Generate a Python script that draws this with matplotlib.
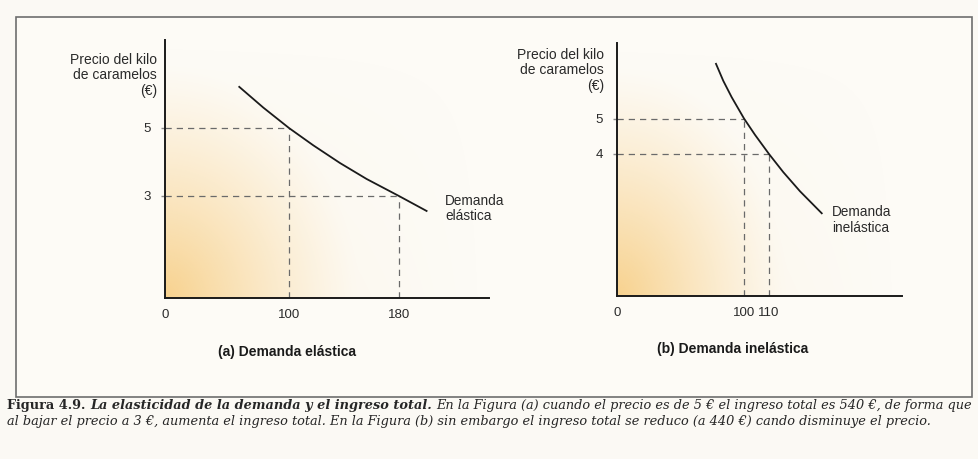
import numpy as np
import matplotlib.pyplot as plt
from matplotlib.patches import Rectangle

# -------- data --------
# (a) elastic demand
qty_ticks_a = [0, 100, 180]
price_ticks_a = [3, 5]
curve_a_q = [59.9, 79.3, 100, 117.7, 137.1, 156.5, 180, 200.1]
curve_a_p = [6.21, 5.60, 5.0, 4.49, 3.97, 3.50, 3.0, 2.56]
points_a = [(100, 5), (180, 3)]

# (b) inelastic demand
qty_ticks_b = [0, 100, 110]
price_ticks_b = [4, 5]
curve_b_q = [77.95, 83.7, 90.3, 100, 104.4, 110, 115.7, 122.4, 131.1]
curve_b_p = [6.54, 6.06, 5.60, 5.0, 4.54, 4.0, 3.49, 2.95, 2.33]
points_b = [(100, 5), (110, 4)]

ylabel = "Precio del kilo\nde caramelos\n(€)"

W, H = 979, 459
plt.rcParams['font.family'] = ['Liberation Sans', 'DejaVu Sans']

fig = plt.figure(figsize=(W / 100, H / 100), dpi=100)
fig.patch.set_facecolor('#fbf9f4')

# background axes for border and caption
bg = fig.add_axes([0, 0, 1, 1])
bg.set_xlim(0, W)
bg.set_ylim(H, 0)
bg.axis('off')
bg.set_zorder(0)
bg.add_patch(Rectangle((16, 17), 956, 380, fill=True, facecolor='#fdfbf6',
                       edgecolor='#6e6e6e', lw=1.2))


def px_box(x0, y_top, x1, y_bot):
    return [x0 / W, 1 - y_bot / H, (x1 - x0) / W, (y_bot - y_top) / H]


def piecewise_scale(qs, ps):
    # the book's quantity axis is not drawn to a uniform scale
    qs = np.asarray(qs, float)
    ps = np.asarray(ps, float)
    return (lambda q: np.interp(q, qs, ps), lambda p: np.interp(p, ps, qs))


def gradient(ax):
    ny, nx = 200, 200
    u = np.linspace(0, 1, nx)[None, :]
    v = np.linspace(0, 1, ny)[:, None]
    a = np.clip(1 - np.sqrt((u / 0.6) ** 2 + (v / 0.9) ** 2), 0, 1) ** 1.2
    img = np.zeros((ny, nx, 4))
    img[..., 0] = 0.97
    img[..., 1] = 0.80
    img[..., 2] = 0.50
    img[..., 3] = 0.75 * a + 0.12 * (1 - u) * (1 - v)
    ax.imshow(img, extent=(0, 1, 0, 1), origin='lower', transform=ax.transAxes,
              aspect='auto', zorder=0, interpolation='bilinear')


def panel(box, scale_q, scale_px, xmax, ymax, curve_q, curve_p, points,
          qticks, pticks, label_xy, label, sub_x, sub_text, ylab_x, ylab_y):
    ax = fig.add_axes(box)
    ax.set_zorder(1)
    ax.patch.set_alpha(0)
    ax.set_xscale('function', functions=piecewise_scale(scale_q, scale_px))
    ax.set_xlim(0, xmax)
    ax.set_ylim(0, ymax)
    gradient(ax)
    for s in ['top', 'right']:
        ax.spines[s].set_visible(False)
    for s in ['left', 'bottom']:
        ax.spines[s].set_linewidth(1.4)
        ax.spines[s].set_color('#1a1a1a')
    ax.plot(curve_q, curve_p, color='#1a1a1a', lw=1.3, zorder=3,
            solid_joinstyle='round')
    for q, p in points:
        ax.plot([0, q], [p, p], color='#6a6a6a', lw=0.9, ls=(0, (5, 4)), zorder=2)
        ax.plot([q, q], [0, p], color='#6a6a6a', lw=0.9, ls=(0, (5, 4)), zorder=2)
    ax.set_xticks(qticks)
    ax.set_xticklabels([str(t) for t in qticks])
    ax.set_yticks(pticks)
    ax.set_yticklabels([str(t) for t in pticks])
    ax.tick_params(axis='x', length=0, pad=8, labelsize=9.5, labelcolor='#2a2a2a')
    ax.tick_params(axis='y', length=3, width=1, color='#8a8a8a', pad=7,
                   labelsize=9.5, labelcolor='#2a2a2a')
    ax.minorticks_off()
    ax.text(label_xy[0], label_xy[1], label, ha='left', va='center', fontsize=9.8,
            color='#2a2a2a', linespacing=1.1)
    ax.text(sub_x, -0.21, sub_text, transform=ax.transAxes, ha='center',
            va='center', fontsize=10, fontweight='bold', color='#1a1a1a')
    ax.text(ylab_x, ylab_y, ylabel, transform=ax.transAxes, ha='right',
            va='center', multialignment='right', fontsize=10, color='#2a2a2a',
            linespacing=1.12)
    return ax


panel(px_box(165, 40, 489, 298), [-1000, 0, 100, 180, 1000],
      [-1240, 0, 124, 234, 1361.5], 245.5, 258 / 34,
      curve_a_q, curve_a_p, points_a, qty_ticks_a, price_ticks_a,
      (213.5, 2.62), "Demanda\nelástica", 0.377, "(a) Demanda elástica",
      -0.025, 0.863)

panel(px_box(617, 43, 902, 296), [-1000, 0, 100, 110, 1000],
      [-1270, 0, 127, 152, 2377], 163.2, 253 / 35.5,
      curve_b_q, curve_b_p, points_b, qty_ticks_b, price_ticks_b,
      (135.2, 2.14), "Demanda\ninelástica", 0.404, "(b) Demanda inelástica",
      -0.046, 0.892)

# -------- caption --------
cap_font = ['DejaVu Serif']
cap_col = '#262626'
cap_size = 9.3
t1 = bg.text(7, 405, "Figura 4.9. ", fontsize=cap_size, fontweight='bold',
             family=cap_font, color=cap_col, va='center', ha='left')
t2 = bg.annotate("La elasticidad de la demanda y el ingreso total. ",
                 xy=(1, 0), xycoords=t1, va='bottom', ha='left', fontsize=cap_size,
                 fontweight='bold', fontstyle='italic', family=cap_font,
                 color=cap_col, annotation_clip=False)
bg.annotate("En la Figura (a) cuando el precio es de 5 € el ingreso total es 540 €, de forma que",
            xy=(1, 0), xycoords=t2, va='bottom', ha='left', fontsize=cap_size,
            fontstyle='italic', family=cap_font, color=cap_col,
            annotation_clip=False)
bg.text(7, 421, "al bajar el precio a 3 €, aumenta el ingreso total. En la Figura (b) sin embargo el ingreso total se reduco (a 440 €) cando disminuye el precio.",
        fontsize=cap_size, fontstyle='italic', family=cap_font, color=cap_col,
        va='center', ha='left')

fig.savefig('out.png', dpi=100, facecolor=fig.get_facecolor())
